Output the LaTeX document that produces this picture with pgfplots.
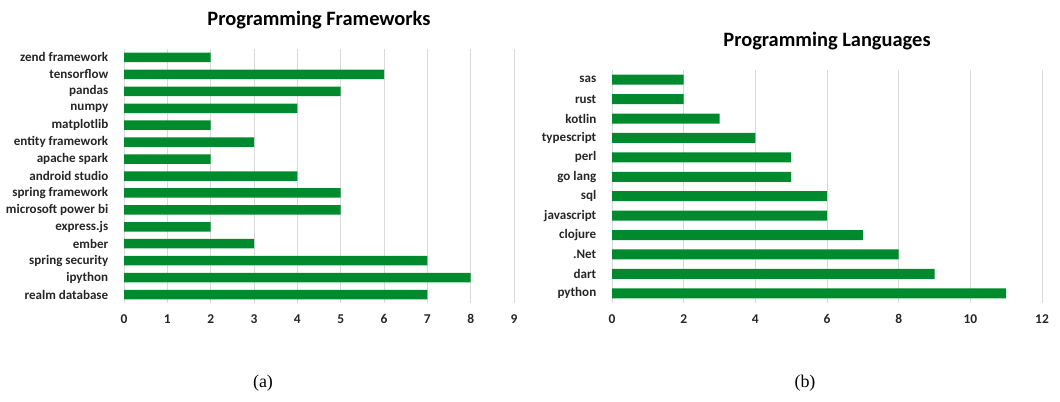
\documentclass[border=0pt]{standalone}
\usepackage{fontspec}
\setmainfont{Carlito}
\newfontfamily\capfont{Liberation Serif}
\usepackage{pgfplots}
\pgfplotsset{compat=1.18}
\definecolor{barG}{RGB}{0,138,46}
\definecolor{gridG}{RGB}{217,217,217}

\pgfplotsset{
  panel/.style={
    xbar, scale only axis,
    axis line style={draw=none},
    xmajorgrids, major grid style={gridG, line width=0.8pt},
    tick style={draw=none},
    xmin=0,
    /pgf/number format/assume math mode=true,
    yticklabel style={font=\fontsize{13.1}{15}\selectfont\bfseries, text=black!85, xshift=-8bp},
    xticklabel style={font=\fontsize{13.5}{15}\selectfont\bfseries, text=black!85, yshift=-8bp},
    title style={at={(0.5,1)}, anchor=center, yshift=23bp,
      font=\fontsize{20.5}{22}\selectfont\bfseries},
    bar width=9.5bp,
  }
}

\begin{document}
\begin{tikzpicture}[x=1bp,y=1bp]
\path[use as bounding box] (0,0) rectangle (1060,401);

\begin{axis}[panel,
  at={(124bp,98bp)}, anchor=south west,
  width=390bp, height=254bp,
  xmax=9, xtick={0,1,...,9},
  ymin=-0.5, ymax=14.5, ytick={0,1,...,14},
  yticklabels={realm database, ipython, spring security, ember, express.js,
    microsoft power bi, spring framework, android studio, apache spark,
    entity framework, matplotlib, numpy, pandas, tensorflow, zend framework},
  title={Programming Frameworks},
]
\addplot[draw=none, fill=barG] coordinates {
  (7,0) (8,1) (7,2) (3,3) (2,4) (5,5) (5,6) (4,7)
  (2,8) (3,9) (2,10) (4,11) (5,12) (6,13) (2,14)};
\end{axis}

\begin{axis}[panel,
  at={(612bp,98bp)}, anchor=south west,
  width=430bp, height=233bp,
  xmax=12, xtick={0,2,...,12},
  ymin=-0.5, ymax=11.5, ytick={0,1,...,11},
  yticklabels={python, dart, .Net, clojure, javascript, sql, go lang, perl,
    typescript, kotlin, rust, sas},
  title={Programming Languages},
  bar width=10bp,
]
\addplot[draw=none, fill=barG] coordinates {
  (11,0) (9,1) (8,2) (7,3) (6,4) (6,5) (5,6) (5,7)
  (4,8) (3,9) (2,10) (2,11)};
\end{axis}

\node[font=\capfont\fontsize{18}{20}\selectfont] at (263,18) {(a)};
\node[font=\capfont\fontsize{18}{20}\selectfont] at (805,18) {(b)};
\end{tikzpicture}
\end{document}
